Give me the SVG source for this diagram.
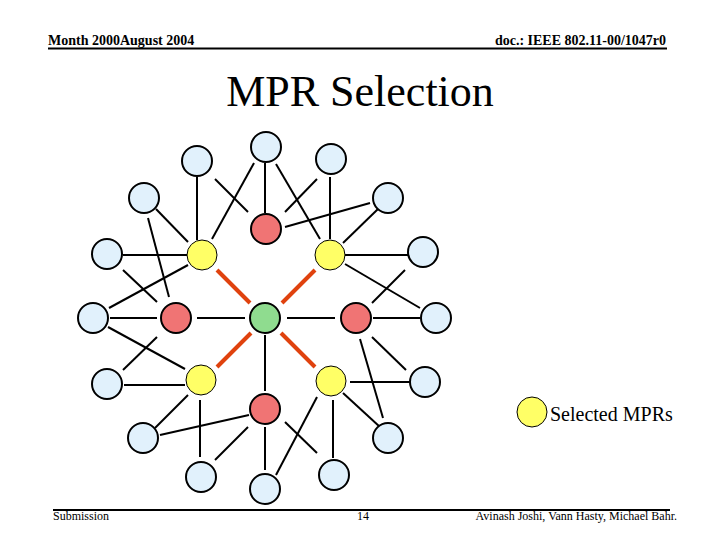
<svg xmlns="http://www.w3.org/2000/svg" width="720" height="540" viewBox="0 0 720 540">
<style>
.hdr{font-family:"Liberation Serif","Times New Roman",serif;font-size:14px;font-weight:bold;fill:#000}
.ftr{font-family:"Liberation Serif","Times New Roman",serif;font-size:12px;fill:#000}
.title{font-family:"Liberation Serif","Times New Roman",serif;font-size:44px;fill:#000}
.leg{font-family:"Liberation Serif","Times New Roman",serif;font-size:20px;fill:#000}
.blue{fill:#E1F1FC;stroke:#000;stroke-width:2}
.red{fill:#F07474;stroke:#000;stroke-width:2}
.green{fill:#8FDC8F;stroke:#000;stroke-width:2}
.yellow{fill:#FFFF66;stroke:#000;stroke-width:1}
.e{stroke:#000;stroke-width:2;fill:none}
.o{stroke:#E0420E;stroke-width:4;fill:none}
</style>
<rect width="720" height="540" fill="#fff"/>
<g id="header">
<text class="hdr" x="48" y="45">Month 2000August 2004</text>
<text class="hdr" x="666" y="45" text-anchor="end">doc.: IEEE 802.11-00/1047r0</text>
<line x1="48" y1="48.5" x2="667" y2="48.5" stroke="#000" stroke-width="2"/>
</g>
<text class="title" x="360" y="106" text-anchor="middle">MPR Selection</text>
<g id="connectors">
<line class="e" x1="265" y1="163" x2="265" y2="213"/>
<line class="e" x1="254" y1="163" x2="212" y2="239"/>
<line class="e" x1="276" y1="164" x2="320" y2="239"/>
<line class="e" x1="197" y1="177" x2="197" y2="240"/>
<line class="e" x1="215" y1="179" x2="248" y2="212"/>
<line class="e" x1="317" y1="179" x2="285" y2="212"/>
<line class="e" x1="330" y1="177" x2="330" y2="239"/>
<line class="e" x1="370" y1="203" x2="285" y2="227"/>
<line class="e" x1="378" y1="209" x2="343" y2="243"/>
<line class="e" x1="156" y1="209" x2="188" y2="242"/>
<line class="e" x1="148" y1="218" x2="169" y2="297"/>
<line class="e" x1="123" y1="255" x2="187" y2="255"/>
<line class="e" x1="123" y1="270" x2="157" y2="302"/>
<line class="e" x1="109" y1="308" x2="188" y2="265"/>
<line class="e" x1="345" y1="255" x2="408" y2="255"/>
<line class="e" x1="345" y1="264" x2="420" y2="308"/>
<line class="e" x1="405" y1="270" x2="372" y2="303"/>
<line class="e" x1="110" y1="318" x2="157" y2="318"/>
<line class="e" x1="197" y1="318" x2="245" y2="318"/>
<line class="e" x1="287" y1="318" x2="335" y2="318"/>
<line class="e" x1="373" y1="318" x2="420" y2="318"/>
<line class="e" x1="265" y1="335" x2="265" y2="391"/>
<line class="e" x1="108" y1="327" x2="185" y2="369"/>
<line class="e" x1="157" y1="337" x2="123" y2="370"/>
<line class="e" x1="124" y1="385" x2="185" y2="385"/>
<line class="e" x1="188" y1="395" x2="155" y2="428"/>
<line class="e" x1="160" y1="435" x2="249" y2="415"/>
<line class="e" x1="200" y1="400" x2="200" y2="457"/>
<line class="e" x1="248" y1="427" x2="215" y2="460"/>
<line class="e" x1="265" y1="427" x2="265" y2="470"/>
<line class="e" x1="317" y1="397" x2="276" y2="475"/>
<line class="e" x1="285" y1="422" x2="317" y2="453"/>
<line class="e" x1="333" y1="400" x2="333" y2="458"/>
<line class="e" x1="350" y1="382" x2="410" y2="382"/>
<line class="e" x1="343" y1="393" x2="380" y2="427"/>
<line class="e" x1="372" y1="337" x2="406" y2="370"/>
<line class="e" x1="360" y1="339" x2="383" y2="418"/>
<line class="o" x1="250" y1="303" x2="217" y2="270"/>
<line class="o" x1="282" y1="303" x2="315" y2="270"/>
<line class="o" x1="251" y1="333" x2="217" y2="367"/>
<line class="o" x1="281" y1="333" x2="315" y2="367"/>
</g>
<g id="center"><circle class="green" cx="265" cy="318" r="15"/></g>
<g id="red-top"><circle class="red" cx="266" cy="229" r="15"/></g>
<g id="red-left"><circle class="red" cx="176" cy="318" r="15"/></g>
<g id="red-right"><circle class="red" cx="356" cy="318" r="15"/></g>
<g id="red-bottom"><circle class="red" cx="265" cy="409" r="15"/></g>
<g id="mpr-tl"><circle class="yellow" cx="202" cy="255" r="15"/></g>
<g id="mpr-tr"><circle class="yellow" cx="330" cy="255" r="15"/></g>
<g id="mpr-bl"><circle class="yellow" cx="201" cy="380" r="15"/></g>
<g id="mpr-br"><circle class="yellow" cx="331" cy="381" r="15"/></g>
<g id="n1"><circle class="blue" cx="266" cy="147" r="15"/></g>
<g id="n2"><circle class="blue" cx="197" cy="161" r="15"/></g>
<g id="n3"><circle class="blue" cx="331" cy="159" r="15"/></g>
<g id="n4"><circle class="blue" cx="144" cy="198" r="15"/></g>
<g id="n5"><circle class="blue" cx="388" cy="198" r="15"/></g>
<g id="n6"><circle class="blue" cx="107" cy="254" r="15"/></g>
<g id="n7"><circle class="blue" cx="423" cy="252" r="15"/></g>
<g id="n8"><circle class="blue" cx="93" cy="318" r="15"/></g>
<g id="n9"><circle class="blue" cx="436" cy="318" r="15"/></g>
<g id="n10"><circle class="blue" cx="107" cy="384" r="15"/></g>
<g id="n11"><circle class="blue" cx="425" cy="382" r="15"/></g>
<g id="n12"><circle class="blue" cx="143" cy="438" r="15"/></g>
<g id="n13"><circle class="blue" cx="388" cy="438" r="15"/></g>
<g id="n14"><circle class="blue" cx="201" cy="477" r="15"/></g>
<g id="n15"><circle class="blue" cx="334" cy="475" r="15"/></g>
<g id="n16"><circle class="blue" cx="265" cy="489" r="15"/></g>
<g id="legend">
<circle class="yellow" cx="532" cy="412" r="15"/>
<text class="leg" x="550" y="421">Selected MPRs</text>
</g>
<g id="footer">
<line x1="53" y1="510" x2="670" y2="510" stroke="#000" stroke-width="2"/>
<text class="ftr" x="53" y="520">Submission</text>
<text class="ftr" x="357" y="520">14</text>
<text class="ftr" x="677" y="520" text-anchor="end">Avinash Joshi, Vann Hasty, Michael Bahr.</text>
</g>
</svg>
